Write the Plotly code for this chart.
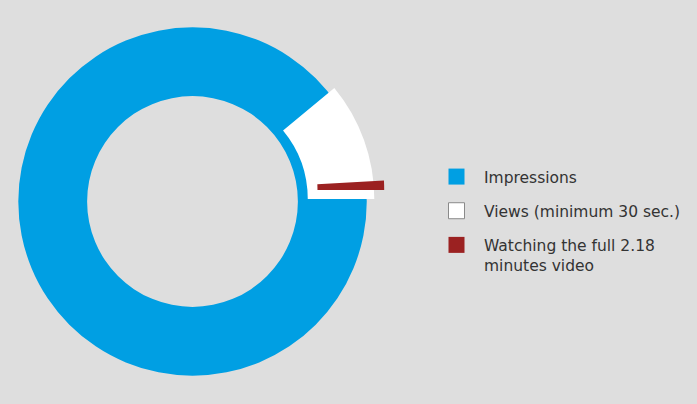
import plotly.graph_objects as go

# ---- data ----
categories = ["Impressions", "Views (minimum 30 sec.)", "Watching the full 2.18<br>minutes video"]
shares = [100, 11, 0.86]          # percent of impressions
colors = ["#009FE3", "#FFFFFF", "#9B2121"]

# ---- layout constants (pixels) ----
W, H = 697, 404
R = 174.2
centers = [(192.5, 201.5), (200.1, 199.0), (210.0, 190.0)]
holes = [0.605, 0.618, 0.617]
BG = "#DEDEDE"

fig = go.Figure()
total = shares[0]
for i, (name, val, col) in enumerate(zip(categories, shares, colors)):
    cx, cy = centers[i]
    dom_x = [(cx - R) / W, (cx + R) / W]
    dom_y = [1 - (cy + R) / H, 1 - (cy - R) / H]
    if i == 0:
        vals = [val]
        labs = [name]
        cols = [col]
    else:
        vals = [val, total - val]
        labs = [name, "rest%d" % i]
        cols = [col, "rgba(0,0,0,0)"]
    fig.add_trace(go.Pie(
        values=vals, labels=labs, sort=False, direction="clockwise",
        rotation=90 - 360 * val / total if i > 0 else 0,
        hole=holes[i], domain=dict(x=dom_x, y=dom_y),
        marker=dict(colors=cols, line=dict(width=0)),
        textinfo="none", hoverinfo="skip", showlegend=False,
    ))

# legend proxies
for i, (name, col) in enumerate(zip(categories, colors)):
    fig.add_trace(go.Scatter(
        x=[None], y=[None], mode="markers", name=name, legendgroup="g%d" % i,
        marker=dict(symbol="square", size=16, color=col,
                    line=dict(color="#8A8A8A" if i == 1 else col, width=1 if i == 1 else 0)),
    ))

fig.update_layout(
    width=W, height=H,
    margin=dict(l=0, r=0, t=0, b=0, autoexpand=False),
    paper_bgcolor=BG, plot_bgcolor=BG,
    xaxis=dict(visible=False), yaxis=dict(visible=False),
    font=dict(family="DejaVu Sans", size=15.5, color="#333333"),
    legend=dict(x=429 / W, y=1 - 160 / H, xanchor="left", yanchor="top",
                bgcolor="rgba(0,0,0,0)", itemwidth=45, tracegroupgap=11,
                valign="top", font=dict(size=15.5, color="#333333")),
)

fig.write_html("out.html", config={"displayModeBar": False},
               post_script="document.body.style.margin='0';")
